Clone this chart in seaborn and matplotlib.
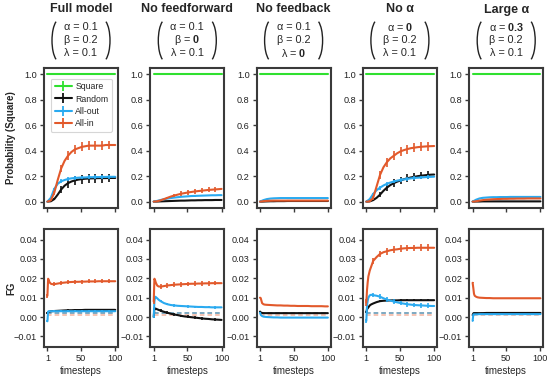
import numpy as np
import matplotlib
matplotlib.use("Agg")
import matplotlib.pyplot as plt
from matplotlib.patches import Arc
from matplotlib.lines import Line2D
from matplotlib.ticker import FuncFormatter
import seaborn as sns

# ---------------- data ----------------
titles = ["Full model", "No feedforward", "No feedback", "No \u03b1", "Large \u03b1"]
alpha_vals = ["0.1", "0.1", "0.1", "0", "0.3"]
beta_vals = ["0.2", "0", "0.2", "0.2", "0.2"]
lambda_vals = ["0.1", "0.1", "0", "0.1", "0.1"]

series_names = ["Square", "Random", "All-out", "All-in"]

x_prob = [1, 6, 11, 16, 21, 26, 31, 36, 41, 46, 51, 56, 61, 66, 71, 76, 81, 86, 91, 96, 100]
x_fg = [1, 2, 3, 4, 6, 8, 11, 16, 21, 26, 31, 36, 41, 46, 51, 56, 61, 66, 71, 76, 81, 86, 91, 96, 100]
x_bars = [1, 11, 21, 31, 41, 51, 61, 71, 81, 91]

prob_square = [1.0] * 21

prob_random = [
    [0, 0.003, 0.02, 0.055, 0.095, 0.125, 0.145, 0.158, 0.167, 0.173, 0.177, 0.18, 0.182, 0.183, 0.184, 0.185, 0.185, 0.185, 0.186, 0.186, 0.186],
    [0, 0.001, 0.002, 0.003, 0.004, 0.005, 0.006, 0.007, 0.008, 0.008, 0.009, 0.010, 0.010, 0.011, 0.011, 0.012, 0.012, 0.012, 0.013, 0.013, 0.013],
    [0, 0.001, 0.002, 0.003, 0.003, 0.004, 0.004, 0.004, 0.005, 0.005, 0.005, 0.005, 0.005, 0.005, 0.005, 0.005, 0.005, 0.005, 0.005, 0.005, 0.005],
    [0, 0.002, 0.012, 0.03, 0.055, 0.085, 0.11, 0.13, 0.145, 0.157, 0.167, 0.176, 0.184, 0.19, 0.195, 0.2, 0.204, 0.207, 0.21, 0.212, 0.213],
    [0, 0.001, 0.001, 0.002, 0.002, 0.002, 0.002, 0.002, 0.002, 0.002, 0.002, 0.002, 0.002, 0.002, 0.002, 0.002, 0.002, 0.002, 0.002, 0.002, 0.002],
]
prob_allout = [
    [0, 0.03, 0.10, 0.14, 0.16, 0.17, 0.178, 0.183, 0.186, 0.188, 0.19, 0.19, 0.192, 0.192, 0.193, 0.193, 0.194, 0.194, 0.195, 0.195, 0.195],
    [0, 0.006, 0.013, 0.019, 0.024, 0.028, 0.032, 0.035, 0.038, 0.040, 0.042, 0.044, 0.045, 0.046, 0.047, 0.048, 0.049, 0.050, 0.050, 0.051, 0.051],
    [0, 0.012, 0.020, 0.024, 0.026, 0.027, 0.028, 0.028, 0.028, 0.028, 0.028, 0.028, 0.028, 0.028, 0.028, 0.028, 0.028, 0.028, 0.028, 0.028, 0.028],
    [0, 0.02, 0.06, 0.09, 0.11, 0.127, 0.14, 0.15, 0.158, 0.165, 0.17, 0.175, 0.179, 0.183, 0.186, 0.188, 0.19, 0.192, 0.194, 0.195, 0.196],
    [0, 0.015, 0.025, 0.03, 0.032, 0.034, 0.035, 0.035, 0.036, 0.036, 0.036, 0.037, 0.037, 0.037, 0.037, 0.037, 0.037, 0.037, 0.037, 0.037, 0.037],
]
prob_allin = [
    [0, 0.01, 0.07, 0.17, 0.26, 0.32, 0.36, 0.39, 0.41, 0.42, 0.43, 0.435, 0.44, 0.44, 0.44, 0.44, 0.44, 0.445, 0.445, 0.445, 0.445],
    [0, 0.003, 0.01, 0.02, 0.03, 0.04, 0.048, 0.055, 0.062, 0.067, 0.072, 0.076, 0.08, 0.083, 0.086, 0.089, 0.092, 0.094, 0.096, 0.098, 0.10],
    [0, 0.004, 0.006, 0.007, 0.008, 0.008, 0.008, 0.008, 0.008, 0.008, 0.008, 0.008, 0.008, 0.008, 0.008, 0.008, 0.008, 0.008, 0.008, 0.008, 0.008],
    [0, 0.003, 0.03, 0.12, 0.21, 0.27, 0.31, 0.34, 0.36, 0.38, 0.395, 0.405, 0.413, 0.42, 0.424, 0.428, 0.431, 0.433, 0.435, 0.436, 0.437],
    [0, 0.003, 0.008, 0.012, 0.015, 0.017, 0.019, 0.02, 0.021, 0.022, 0.022, 0.023, 0.023, 0.024, 0.024, 0.024, 0.025, 0.025, 0.025, 0.025, 0.025],
]

prob_random_err = [
    [0, 0.01, 0.03, 0.035, 0.035, 0.035, 0.035, 0.035, 0.035, 0.035],
    [0, 0.002, 0.003, 0.003, 0.003, 0.003, 0.003, 0.003, 0.003, 0.003],
    [0, 0.002, 0.002, 0.002, 0.002, 0.002, 0.002, 0.002, 0.002, 0.002],
    [0, 0.01, 0.02, 0.03, 0.03, 0.03, 0.03, 0.03, 0.03, 0.03],
    [0, 0.002, 0.002, 0.002, 0.002, 0.002, 0.002, 0.002, 0.002, 0.002],
]
prob_allout_err = [
    [0, 0.01, 0.015, 0.015, 0.015, 0.015, 0.015, 0.015, 0.015, 0.015],
    [0, 0.004, 0.005, 0.005, 0.005, 0.005, 0.005, 0.005, 0.005, 0.005],
    [0, 0.003, 0.003, 0.003, 0.003, 0.003, 0.003, 0.003, 0.003, 0.003],
    [0, 0.01, 0.015, 0.015, 0.015, 0.015, 0.015, 0.015, 0.015, 0.015],
    [0, 0.004, 0.004, 0.004, 0.004, 0.004, 0.004, 0.004, 0.004, 0.004],
]
prob_allin_err = [
    [0, 0.015, 0.03, 0.035, 0.035, 0.035, 0.035, 0.035, 0.035, 0.035],
    [0, 0.005, 0.01, 0.015, 0.018, 0.018, 0.018, 0.02, 0.02, 0.02],
    [0, 0.002, 0.002, 0.002, 0.002, 0.002, 0.002, 0.002, 0.002, 0.002],
    [0, 0.015, 0.03, 0.035, 0.035, 0.035, 0.035, 0.035, 0.035, 0.035],
    [0, 0.004, 0.004, 0.004, 0.004, 0.004, 0.004, 0.004, 0.004, 0.004],
]

fg_random = [
    [0.002, 0.0025, 0.0027, 0.0028, 0.003, 0.003, 0.0031, 0.0032, 0.0033, 0.0034, 0.0035, 0.0035, 0.0036, 0.0036, 0.0036, 0.0037, 0.0037, 0.0037, 0.0037, 0.0037, 0.0037, 0.0037, 0.0037, 0.0037, 0.0037],
    [0.0, 0.0045, 0.0044, 0.0043, 0.004, 0.0037, 0.0033, 0.0027, 0.0022, 0.0017, 0.0013, 0.001, 0.0006, 0.0003, 0.0001, -0.0001, -0.0003, -0.0005, -0.0007, -0.0009, -0.001, -0.0012, -0.0013, -0.0014, -0.0015],
    [0.0028, 0.0024, 0.0022, 0.0021, 0.002, 0.002, 0.002, 0.002, 0.002, 0.002, 0.002, 0.002, 0.002, 0.002, 0.002, 0.002, 0.002, 0.002, 0.002, 0.002, 0.002, 0.002, 0.002, 0.002, 0.002],
    [0.0025, 0.004, 0.0045, 0.005, 0.006, 0.0065, 0.007, 0.0077, 0.0082, 0.0084, 0.0085, 0.0086, 0.0086, 0.0086, 0.0087, 0.0087, 0.0087, 0.0087, 0.0087, 0.0087, 0.0087, 0.0087, 0.0087, 0.0087, 0.0087],
    [0.001, 0.0019, 0.002, 0.002, 0.002, 0.002, 0.002, 0.002, 0.0021, 0.0021, 0.0021, 0.0021, 0.0021, 0.0021, 0.0021, 0.0021, 0.0021, 0.0021, 0.0021, 0.0021, 0.0021, 0.0021, 0.0021, 0.0021, 0.0021],
]
fg_allout = [
    [-0.0022, 0.0028, 0.003, 0.003, 0.003, 0.003, 0.003, 0.003, 0.003, 0.003, 0.003, 0.003, 0.003, 0.003, 0.003, 0.003, 0.003, 0.003, 0.003, 0.003, 0.003, 0.003, 0.003, 0.003, 0.003],
    [0.0, 0.008, 0.0105, 0.0103, 0.0097, 0.009, 0.0082, 0.0072, 0.0066, 0.0062, 0.006, 0.0058, 0.0057, 0.0056, 0.0055, 0.0054, 0.0053, 0.0052, 0.0052, 0.0051, 0.0051, 0.005, 0.005, 0.005, 0.005],
    [0.0022, 0.0012, 0.0008, 0.0005, 0.0002, 0.0001, 0.0, -0.0001, -0.0002, -0.0002, -0.0003, -0.0003, -0.0003, -0.0003, -0.0003, -0.0003, -0.0003, -0.0003, -0.0003, -0.0003, -0.0003, -0.0003, -0.0003, -0.0003, -0.0003],
    [-0.002, 0.006, 0.0085, 0.01, 0.0112, 0.0115, 0.0113, 0.011, 0.0105, 0.0097, 0.009, 0.0085, 0.008, 0.0076, 0.0072, 0.0069, 0.0066, 0.0064, 0.0062, 0.0061, 0.006, 0.0059, 0.0058, 0.0057, 0.0057],
    [-0.002, 0.0013, 0.0014, 0.0014, 0.0014, 0.0014, 0.0015, 0.0015, 0.0015, 0.0015, 0.0015, 0.0015, 0.0015, 0.0015, 0.0015, 0.0015, 0.0015, 0.0015, 0.0015, 0.0015, 0.0015, 0.0015, 0.0015, 0.0015, 0.0015],
]
fg_allin = [
    [0.011, 0.0198, 0.019, 0.018, 0.0172, 0.017, 0.017, 0.0173, 0.0176, 0.0178, 0.018, 0.0181, 0.0182, 0.0182, 0.0183, 0.0183, 0.0184, 0.0184, 0.0184, 0.0185, 0.0185, 0.0185, 0.0185, 0.0185, 0.0185],
    [0.008, 0.0198, 0.019, 0.0178, 0.0163, 0.0158, 0.0157, 0.016, 0.0163, 0.0165, 0.0167, 0.0168, 0.0169, 0.017, 0.0171, 0.0172, 0.0172, 0.0173, 0.0173, 0.0174, 0.0174, 0.0175, 0.0175, 0.0175, 0.0175],
    [0.01, 0.0098, 0.0085, 0.0072, 0.0066, 0.0064, 0.0063, 0.0062, 0.0061, 0.006, 0.006, 0.0059, 0.0059, 0.0058, 0.0058, 0.0057, 0.0057, 0.0057, 0.0057, 0.0056, 0.0056, 0.0056, 0.0056, 0.0055, 0.0055],
    [0.0075, 0.014, 0.018, 0.021, 0.024, 0.026, 0.029, 0.031, 0.0326, 0.0335, 0.034, 0.0345, 0.0348, 0.035, 0.0353, 0.0355, 0.0356, 0.0357, 0.0357, 0.0358, 0.0358, 0.0358, 0.0358, 0.0358, 0.0358],
    [0.0177, 0.015, 0.012, 0.011, 0.0105, 0.0102, 0.01, 0.0099, 0.0098, 0.0098, 0.0097, 0.0097, 0.0097, 0.0097, 0.0097, 0.0097, 0.0097, 0.0097, 0.0097, 0.0097, 0.0097, 0.0097, 0.0097, 0.0097, 0.0097],
]
fg_random_err = [0.0005, 0.0007, 0.0002, 0.0005, 0.0002]
fg_allout_err = [0.0004, 0.0006, 0.0002, 0.0012, 0.0002]
fg_allin_err = [0.001, 0.0012, 0.0002, 0.0017, 0.0002]

fg_baseline = [0.0022, 0.002, 0.0012]  # Random, All-out, All-in (dashed)

# ---------------- style ----------------
sns.set_theme(style="ticks")
plt.rcParams["font.family"] = ["Liberation Sans", "DejaVu Sans"]
plt.rcParams["mathtext.fontset"] = "custom"
plt.rcParams["mathtext.rm"] = "Liberation Sans"
plt.rcParams["mathtext.bf"] = "Liberation Sans:bold"
plt.rcParams["axes.unicode_minus"] = True

colors = {"Square": "#2fe02f", "Random": "#111111", "All-out": "#2aaaf0", "All-in": "#e2592b"}
spine_col = "#3a3a3a"

W, H = 551, 379
fig = plt.figure(figsize=(W / 100, H / 100), dpi=100)

def fx(px):
    return px / W

def fy(py):
    return 1 - py / H

lefts = [44 + 106.3 * i for i in range(5)]
pw = 74
top_rows = (68, 208)
bot_rows = (229, 347)

bar_idx_prob = [x_prob.index(v) for v in x_bars]
bar_idx_fg = [x_fg.index(v) for v in x_bars]

def style_ax(ax):
    for s in ax.spines.values():
        s.set_visible(True)
        s.set_linewidth(1.5)
        s.set_color(spine_col)
    ax.tick_params(direction="out", length=3, width=1, colors=spine_col,
                   labelsize=6.6, labelcolor="#222222", pad=2)
    ax.set_xlim(-4, 104)
    ax.set_xticks([1, 50, 100])
    ax.grid(False)

def plot_series(ax, x, y, idx, err, color, lw=1.5):
    sns.lineplot(x=x, y=y, color=color, lw=lw, ax=ax, legend=False, errorbar=None)
    xa = np.asarray(x, dtype=float)[idx]
    ya = np.asarray(y, dtype=float)[idx]
    ax.errorbar(xa, ya, yerr=err, fmt="none", ecolor=color, elinewidth=1.2, capsize=0)

def bold_if(name, val, ref):
    if val != ref:
        return name + " = $\\mathbf{" + val + "}$"
    return name + " = " + val

def polar_deg(t_deg, a, b):
    t = np.deg2rad(t_deg)
    return np.rad2deg(np.arctan2(b * np.sin(t), a * np.cos(t)))

for i in range(5):
    # top row
    ax = fig.add_axes([fx(lefts[i]), fy(top_rows[1]), fx(pw), (top_rows[1] - top_rows[0]) / H])
    plot_series(ax, x_prob, prob_square, bar_idx_prob, [0] * 10, colors["Square"])
    plot_series(ax, x_prob, prob_random[i], bar_idx_prob, prob_random_err[i], colors["Random"])
    plot_series(ax, x_prob, prob_allout[i], bar_idx_prob, prob_allout_err[i], colors["All-out"])
    plot_series(ax, x_prob, prob_allin[i], bar_idx_prob, prob_allin_err[i], colors["All-in"])
    style_ax(ax)
    ax.set_ylim(-0.05, 1.05)
    ax.set_yticks([0, 0.2, 0.4, 0.6, 0.8, 1.0])
    ax.yaxis.set_major_formatter(FuncFormatter(lambda v, p: f"{v:.1f}"))
    ax.set_xticklabels([])
    ax.set_xlabel("")
    ax.set_ylabel("")
    if i == 0:
        ax.set_ylabel("Probability (Square)", fontsize=7, fontweight="bold")
        ax.yaxis.set_label_coords(-0.38, 0.5)
        handles = []
        for n in series_names:
            c = colors[n]
            handles.append((Line2D([], [], color=c, lw=1.5),
                            Line2D([], [], color=c, marker="|", ls="none", markersize=6.5, mew=1.3)))
        leg = ax.legend(handles, series_names, loc="upper left", bbox_to_anchor=(0.09, 0.925),
                        fontsize=6.3, frameon=True, fancybox=True, handlelength=2.0,
                        borderpad=0.45, labelspacing=0.35, handletextpad=0.35, borderaxespad=0)
        leg.get_frame().set_edgecolor("#cccccc")
        leg.get_frame().set_linewidth(0.8)

    # bottom row
    ax2 = fig.add_axes([fx(lefts[i]), fy(bot_rows[1]), fx(pw), (bot_rows[1] - bot_rows[0]) / H])
    for b, cname in zip(fg_baseline, ["Random", "All-out", "All-in"]):
        ax2.hlines(b, x_fg[0], x_fg[-1], colors=colors[cname], linestyles=(0, (3, 2)),
                   lw=1.1, alpha=0.45)
    plot_series(ax2, x_fg, fg_random[i], bar_idx_fg, fg_random_err[i], colors["Random"])
    plot_series(ax2, x_fg, fg_allout[i], bar_idx_fg, fg_allout_err[i], colors["All-out"])
    plot_series(ax2, x_fg, fg_allin[i], bar_idx_fg, fg_allin_err[i], colors["All-in"])
    style_ax(ax2)
    ax2.set_ylim(-0.0155, 0.0455)
    ax2.set_yticks([-0.01, 0.0, 0.01, 0.02, 0.03, 0.04])
    ax2.yaxis.set_major_formatter(FuncFormatter(lambda v, p: f"{v:.2f}".replace("-", "\u2212")))
    ax2.set_xlabel("timesteps", fontsize=7, labelpad=2)
    ax2.set_ylabel("")
    if i == 0:
        ax2.set_ylabel("FG", fontsize=7, fontweight="bold")
        ax2.yaxis.set_label_coords(-0.38, 0.5)

    # header
    cx = lefts[i] + pw / 2
    fig.text(fx(cx), fy(9.5), titles[i], ha="center", va="center", fontsize=9, fontweight="bold")
    lines = [bold_if("\u03b1", alpha_vals[i], alpha_vals[0]),
             bold_if("\u03b2", beta_vals[i], beta_vals[0]),
             bold_if("\u03bb", lambda_vals[i], lambda_vals[0])]
    for k, t in enumerate(lines):
        fig.text(fx(cx), fy(26.7 + 13.3 * k), t, ha="center", va="center", fontsize=7.8)
    a, b = 7.6, 21.3
    cy = 40.5
    t1, t2 = polar_deg(110, a, b), polar_deg(250, a, b) + 360
    fig.add_artist(Arc((fx(cx - 29 + a), fy(cy)), 2 * a / W, 2 * b / H, theta1=t1, theta2=t2,
                       transform=fig.transFigure, color="#222222", lw=1.0))
    r1, r2 = polar_deg(-70, a, b), polar_deg(70, a, b)
    fig.add_artist(Arc((fx(cx + 29 - a), fy(cy)), 2 * a / W, 2 * b / H, theta1=r1, theta2=r2,
                       transform=fig.transFigure, color="#222222", lw=1.0))

fig.savefig("out.png", dpi=100)
